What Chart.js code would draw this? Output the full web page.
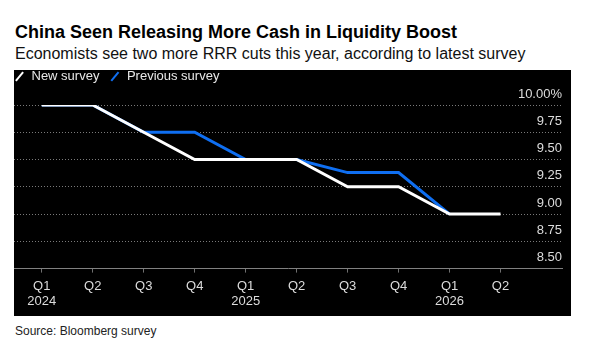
<!DOCTYPE html>
<html>
<head>
<meta charset="utf-8">
<script src="https://cdn.jsdelivr.net/npm/chart.js@4.4.1/dist/chart.umd.min.js"></script>
<style>
  html, body { margin: 0; padding: 0; background: #fff; }
  body { width: 592px; height: 349px; position: relative; overflow: hidden; font-family: "Liberation Sans", Arial, sans-serif; }
  #title { position: absolute; left: 15px; top: 21px; font-size: 18px; font-weight: bold; color: #000; line-height: 22px; white-space: nowrap; }
  #subtitle { position: absolute; left: 15px; top: 44px; font-size: 16px; color: #111; line-height: 20px; white-space: nowrap; }
  #panel { position: absolute; left: 14px; top: 70px; width: 557px; height: 246px; background: #000; }
  #source { position: absolute; left: 15px; top: 323px; font-size: 12px; color: #222; line-height: 16px; white-space: nowrap; }
</style>
</head>
<body>
<div id="title">China Seen Releasing More Cash in Liquidity Boost</div>
<div id="subtitle">Economists see two more RRR cuts this year, according to latest survey</div>
<div id="panel"><canvas id="chart" width="557" height="246"></canvas></div>
<div id="source">Source: Bloomberg survey</div>
<script>
const quarters = ['Q1', 'Q2', 'Q3', 'Q4', 'Q1', 'Q2', 'Q3', 'Q4', 'Q1', 'Q2'];
const years = ['2024', '', '', '', '2025', '', '', '', '2026', ''];
const newSurvey = [10.0, 10.0, 9.75, 9.5, 9.5, 9.5, 9.25, 9.25, 9.0, 9.0];
const previousSurvey = [10.0, 10.0, 9.75, 9.75, 9.5, 9.5, 9.38, 9.38, 9.0, null];
const yTicks = [8.5, 8.75, 9.0, 9.25, 9.5, 9.75, 10.0];

const toPoints = values => values.map((v, i) => ({ x: i, y: v }));

const tickColor = '#dcdcdc';
const gridColor = '#707070';

// legend box height, so the plot starts where the reference does
const legendHeight = {
  id: 'legendHeight',
  beforeInit(chart) {
    const fit = chart.legend.fit;
    chart.legend.fit = function () {
      fit.bind(chart.legend)();
      this.height = 45;
    };
  }
};

new Chart(document.getElementById('chart'), {
  type: 'line',
  data: {
    datasets: [
      {
        label: 'New survey',
        data: toPoints(newSurvey),
        borderColor: '#ffffff',
        backgroundColor: '#ffffff',
        borderWidth: 3,
        pointRadius: 0,
        tension: 0,
      },
      {
        label: 'Previous survey',
        data: toPoints(previousSurvey),
        borderColor: '#0f6ff2',
        backgroundColor: '#0f6ff2',
        borderWidth: 3,
        pointRadius: 0,
        tension: 0,
      },
    ],
  },
  options: {
    responsive: false,
    animation: false,
    layout: {
      padding: { left: -10, top: -10, right: 9, bottom: 1 },
    },
    plugins: {
      legend: {
        display: true,
        position: 'top',
        align: 'start',
        labels: {
          color: '#e8e8e8',
          font: { family: '"Liberation Sans", Arial, sans-serif', size: 13 },
          padding: 10,
          boxWidth: 11,
          boxHeight: 8,
          usePointStyle: true,
          generateLabels(chart) {
            return chart.data.datasets.map((ds, i) => ({
              text: ds.label,
              fillStyle: ds.borderColor,
              strokeStyle: ds.borderColor,
              fontColor: '#e8e8e8',
              lineWidth: 2,
              pointStyle: 'line',
              rotation: -50,
              hidden: false,
              datasetIndex: i,
            }));
          },
        },
      },
      tooltip: { enabled: false },
    },
    scales: {
      x: {
        type: 'linear',
        min: -0.545,
        max: 10.206,
        afterBuildTicks(axis) {
          axis.ticks = quarters.map((q, i) => ({ value: i }));
        },
        grid: {
          drawOnChartArea: false,
          drawTicks: true,
          tickLength: 4,
          tickColor: gridColor,
        },
        border: { display: true, color: '#808080', width: 1 },
        ticks: {
          color: tickColor,
          font: { family: '"Liberation Sans", Arial, sans-serif', size: 13 },
          padding: 5.6,
          maxRotation: 0,
          autoSkip: false,
          callback: value => [quarters[value], years[value]],
        },
      },
      y: {
        type: 'linear',
        position: 'right',
        min: 8.5,
        max: 10.0,
        afterBuildTicks(axis) {
          axis.ticks = yTicks.map(v => ({ value: v }));
        },
        grid: {
          color: '#7a7a7a',
          lineWidth: 1,
          drawTicks: false,
        },
        border: { display: false, dash: [1, 2] },
        ticks: {
          mirror: true,
          padding: 0,
          labelOffset: -11,
          color: tickColor,
          font: { family: '"Liberation Sans", Arial, sans-serif', size: 13 },
          callback: value => value === 10 ? value.toFixed(2) + '%' : value.toFixed(2),
        },
      },
    },
  },
  plugins: [legendHeight],
});
</script>
</body>
</html>
